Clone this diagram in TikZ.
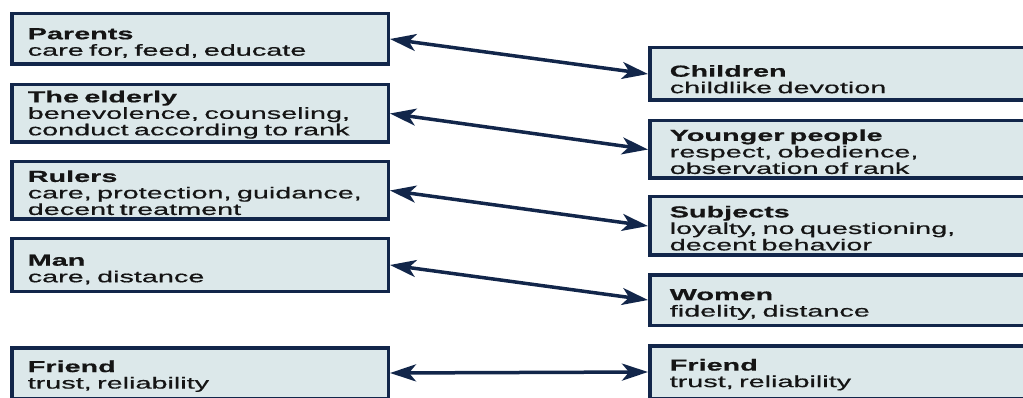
\documentclass[tikz,border=0pt]{standalone}
\usepackage{fontspec}
\setmainfont{Liberation Sans}
\newfontfamily\wideface[FakeStretch=1.8,FakeBold=0.6]{Liberation Sans}
\usetikzlibrary{arrows.meta}
\definecolor{boxfill}{HTML}{DCE8EA}
\definecolor{navy}{HTML}{12264A}
\definecolor{ink}{HTML}{151515}

\begin{document}
\begin{tikzpicture}[
  x=1pt, y=-1pt,
  role/.style={rectangle, draw=navy, line width=3.5pt, fill=boxfill,
               text=ink, align=left, inner ysep=0pt,
               font=\wideface\fontsize{16}{16.5}\selectfont},
  headroom/.style={execute at begin node={\rule{0pt}{#1}}},
  lrole/.style={role, minimum width=376.5pt, text width=344.5pt, inner xsep=16pt},
  rrole/.style={role, minimum width=390pt, text width=350pt, inner xsep=20pt},
  arr/.style={{Stealth[length=26pt,width=17pt,inset=7pt]}-{Stealth[length=26pt,width=17pt,inset=7pt]},
              draw=navy, line width=3.5pt}
]
\useasboundingbox (0,0) rectangle (1023,398);
\clip (0,0) rectangle (1023,398);

% left column
\node[lrole, minimum height=50.5pt, headroom=19pt] (parents) at (200,39)
  {\textbf{Parents}\\care for, feed, educate};
\node[lrole, minimum height=57.5pt, headroom=14pt] (elderly) at (200,113.5)
  {\textbf{The elderly}\\benevolence, counseling,\\conduct according to rank};
\node[lrole, minimum height=57.5pt, headroom=16pt] (rulers)  at (200,190.5)
  {\textbf{Rulers}\\care, protection, guidance,\\decent treatment};
\node[lrole, minimum height=52.5pt, headroom=20pt] (man)     at (200,265)
  {\textbf{Man}\\care, distance};
\node[lrole, minimum height=50.5pt, headroom=18pt] (friendl) at (200,373)
  {\textbf{Friend}\\trust, reliability};

% right column
\node[rrole, minimum height=52.5pt, headroom=22pt] (children) at (844.75,74)
  {\textbf{Children}\\childlike devotion};
\node[rrole, minimum height=57.5pt, headroom=16pt] (younger)  at (844.75,149.5)
  {\textbf{Younger people}\\respect, obedience,\\observation of rank};
\node[rrole, minimum height=58.5pt, headroom=16pt] (subjects) at (844.75,226)
  {\textbf{Subjects}\\loyalty, no questioning,\\decent behavior};
\node[rrole, minimum height=50.5pt, headroom=20pt] (women)    at (844.75,300)
  {\textbf{Women}\\fidelity, distance};
\node[rrole, minimum height=52.5pt, headroom=17pt] (friendr)  at (844.75,372)
  {\textbf{Friend}\\trust, reliability};

\draw[arr] (parents.east) -- (children.west);
\draw[arr] (elderly.east) -- (younger.west);
\draw[arr] (rulers.east)  -- (subjects.west);
\draw[arr] (man.east)     -- (women.west);
\draw[arr] (friendl.east) -- (friendr.west);

\end{tikzpicture}
\end{document}
